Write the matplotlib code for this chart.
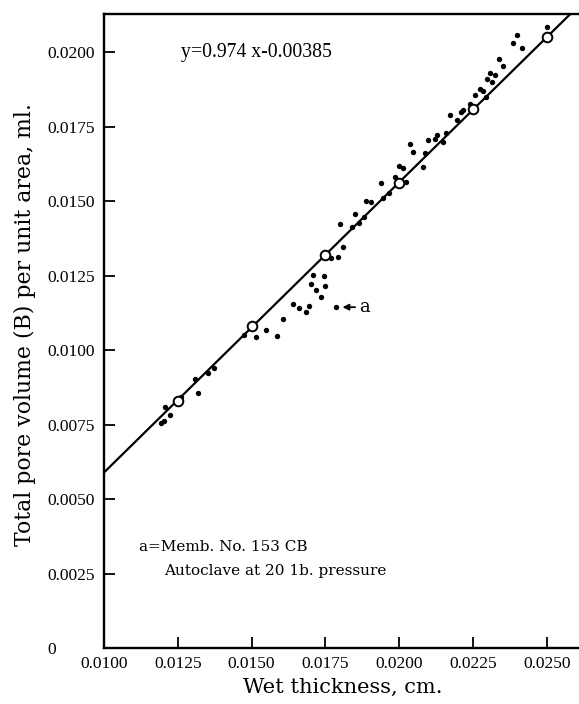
import matplotlib
matplotlib.use("Agg")
import matplotlib.pyplot as plt
import numpy as np

# ---- data ----
wet_thickness = [0.01193, 0.01203, 0.01224, 0.01207, 0.01261, 0.01308, 0.01317, 0.01352,
                 0.01373, 0.01474, 0.01515, 0.01549, 0.01586, 0.01606, 0.01640, 0.01661,
                 0.01684, 0.01694, 0.01701, 0.01718, 0.01735, 0.01708, 0.01744, 0.01749,
                 0.01786, 0.01769, 0.01793, 0.01810, 0.01800, 0.01840, 0.01850, 0.01864,
                 0.01881, 0.01888, 0.01905, 0.01938, 0.01945, 0.01965, 0.01986, 0.02023,
                 0.01999, 0.02013, 0.02037, 0.02047, 0.02081, 0.02087, 0.02098, 0.02121,
                 0.02128, 0.02148, 0.02159, 0.02172, 0.02196, 0.02209, 0.02216, 0.02240,
                 0.02257, 0.02274, 0.02284, 0.02294, 0.02297, 0.02314, 0.02308, 0.02325,
                 0.02338, 0.02352, 0.02386, 0.02399, 0.02416, 0.02501]
pore_volume = [0.00755, 0.00762, 0.00782, 0.00809, 0.00842, 0.00903, 0.00857, 0.00923,
               0.00940, 0.01050, 0.01044, 0.01067, 0.01047, 0.01104, 0.01154, 0.01141,
               0.01128, 0.01148, 0.01222, 0.01201, 0.01178, 0.01252, 0.01248, 0.01215,
               0.01144, 0.01309, 0.01312, 0.01346, 0.01423, 0.01413, 0.01456, 0.01426,
               0.01446, 0.01500, 0.01497, 0.01560, 0.01510, 0.01527, 0.01581, 0.01564,
               0.01617, 0.01611, 0.01691, 0.01664, 0.01614, 0.01661, 0.01705, 0.01708,
               0.01722, 0.01698, 0.01728, 0.01789, 0.01772, 0.01799, 0.01805, 0.01826,
               0.01856, 0.01876, 0.01869, 0.01849, 0.01909, 0.01899, 0.01930, 0.01923,
               0.01977, 0.01953, 0.02030, 0.02057, 0.02013, 0.02084]

circle_x = [0.0125, 0.0150, 0.0175, 0.0200, 0.0225, 0.0250]
circle_y = [0.0083, 0.0108, 0.0132, 0.0156, 0.0181, 0.0205]

slope = 0.974
intercept = -0.00385

special_x = 0.01786
special_y = 0.01144

x_ticks = [0.0100, 0.0125, 0.0150, 0.0175, 0.0200, 0.0225, 0.0250]
x_tick_labels = ["0.0100", "0.0125", "0.0150", "0.0175", "0.0200", "0.0225", "0.0250"]
y_ticks = [0, 0.0025, 0.0050, 0.0075, 0.0100, 0.0125, 0.0150, 0.0175, 0.0200]
y_tick_labels = ["0", "0.0025", "0.0050", "0.0075", "0.0100", "0.0125", "0.0150", "0.0175", "0.0200"]

# ---- figure ----
fig = plt.figure(figsize=(5.79, 7.04), dpi=100)
ax = fig.add_axes([104/579, 1 - 648/704, (578 - 104)/579, (648 - 14)/704])

xmin, xmax = 0.0100, 0.02606
ymin, ymax = 0.0, 0.02128
ax.set_xlim(xmin, xmax)
ax.set_ylim(ymin, ymax)

lx = np.array([xmin, xmax])
ax.plot(lx, slope*lx + intercept, color="black", lw=1.6, zorder=2)

ax.scatter(wet_thickness, pore_volume, s=15, color="black", zorder=3, linewidths=0)
ax.scatter(circle_x, circle_y, s=48, facecolor="white", edgecolor="black",
           linewidths=1.4, zorder=4)

serif_ticks = "Liberation Serif"
serif_text = "DejaVu Serif"

ax.set_xticks(x_ticks)
ax.set_xticklabels(x_tick_labels, family=serif_ticks, fontsize=12.5)
ax.set_yticks(y_ticks)
ax.set_yticklabels(y_tick_labels, family=serif_ticks, fontsize=12.5)
ax.tick_params(direction="in", length=8, width=1.3)
ax.tick_params(axis="x", pad=6)
ax.tick_params(axis="y", pad=41)
for lab in ax.get_yticklabels():
    lab.set_horizontalalignment("left")

for s in ["left", "bottom", "top"]:
    ax.spines[s].set_linewidth(1.7)
ax.spines["right"].set_visible(False)

ax.set_xlabel("Wet thickness, cm.", family=serif_text, fontsize=15)
ax.xaxis.set_label_coords(0.504, -0.047)
ax.set_ylabel("Total pore volume (B) per unit area, ml.", family=serif_text,
              fontsize=15.8)
ax.yaxis.set_label_coords(-0.143, 0.51)

ax.text(0.0126, 0.0200, "y=0.974 x-0.00385", family=serif_ticks, fontsize=14.2,
        ha="left", va="center")

ax.annotate("a", xy=(special_x + 0.00022, special_y), xytext=(0.01865, special_y),
            family=serif_text, fontsize=13, ha="left", va="center",
            arrowprops=dict(arrowstyle="-|>", color="black", lw=1.3,
                            shrinkA=1, shrinkB=0, mutation_scale=9))

ax.text(0.01120, 0.00340, "a=Memb. No. 153 CB", family=serif_text, fontsize=11,
        ha="left", va="center")
ax.text(0.01205, 0.00260, "Autoclave at 20 1b. pressure", family=serif_text,
        fontsize=11, ha="left", va="center")

fig.savefig("out.png", dpi=100)
